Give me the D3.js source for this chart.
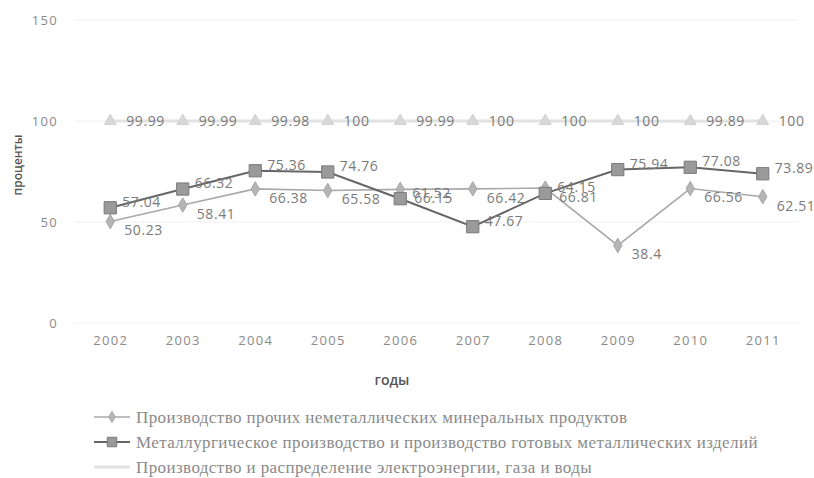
<!DOCTYPE html>
<html>
<head>
<meta charset="utf-8">
<script src="https://cdn.jsdelivr.net/npm/d3@7"></script>
<style>
  body { margin: 0; background: #fff; }
  .tick-label { font-family: "Open Sans", sans-serif; font-size: 13px; fill: #8a8a8a; letter-spacing: 1.3px; }
  .val-label { font-family: "Open Sans", sans-serif; font-size: 14px; fill: #7a7a7a; letter-spacing: 0.6px; }
  .axis-title { font-family: "Open Sans", sans-serif; font-size: 12px; fill: #555; font-weight: 600; }
  .legend-text { font-family: "Liberation Serif", serif; font-size: 17px; fill: #8a8a8a; letter-spacing: 0.4px; }
</style>
</head>
<body>
<div id="chart"></div>
<script>
// years on x axis
const years = ["2002", "2003", "2004", "2005", "2006", "2007", "2008", "2009", "2010", "2011"];
const yTicks = [0, 50, 100, 150];

// series values, percent
const nonMetal = [50.23, 58.41, 66.38, 65.58, 66.15, 66.42, 66.81, 38.4, 66.56, 62.51];
const metal = [57.04, 66.32, 75.36, 74.76, 61.52, 47.67, 64.15, 75.94, 77.08, 73.89];
const energy = [99.99, 99.99, 99.98, 100, 99.99, 100, 100, 100, 99.89, 100];

const seriesNames = [
    "Производство прочих неметаллических минеральных продуктов",
    "Металлургическое производство и производство готовых металлических изделий",
    "Производство и распределение электроэнергии, газа и воды"
];

const W = 814, H = 478;

const svg = d3.select("#chart")
    .append("svg")
    .attr("width", W)
    .attr("height", H);

const x = d3.scalePoint()
    .domain(years)
    .range([74, 799])
    .padding(0.5);

const y = d3.scaleLinear()
    .domain([0, 150])
    .range([323, 20]);

// faint gridlines
svg.append("g")
    .selectAll("line")
    .data(yTicks)
    .enter()
    .append("line")
    .attr("x1", 74).attr("x2", 799)
    .attr("y1", d => y(d)).attr("y2", d => y(d))
    .attr("stroke", "#f0f0f0")
    .attr("stroke-width", 1);

// y axis (labels only)
const yAxis = d3.axisLeft(y).tickValues(yTicks).tickSize(0).tickPadding(0);
const gy = svg.append("g")
    .attr("transform", "translate(58,0)")
    .call(yAxis);
gy.select(".domain").remove();
gy.selectAll("text").attr("class", "tick-label").attr("dy", "0.35em");

// x axis (labels only)
const xAxis = d3.axisBottom(x).tickSize(0).tickPadding(0);
const gx = svg.append("g")
    .attr("transform", "translate(0,337)")
    .call(xAxis);
gx.select(".domain").remove();
gx.selectAll("text").attr("class", "tick-label").attr("dy", "0.6em");

// axis titles
svg.append("g")
    .attr("transform", "translate(18,165) rotate(-90)")
    .append("text")
    .attr("class", "axis-title")
    .attr("text-anchor", "middle")
    .attr("dy", "0.35em")
    .text("проценты");

svg.append("text")
    .attr("class", "axis-title")
    .attr("x", 392)
    .attr("y", 380)
    .attr("dy", "0.35em")
    .attr("text-anchor", "middle")
    .style("font-size", "14px")
    .text("годы");

const line = d3.line()
    .x((d, i) => x(years[i]))
    .y(d => y(d));

const series = [
    { values: energy, line: "#e2e2e2", width: 3, fill: "#d8d8d8", stroke: "#cfcfcf", shape: d3.symbolTriangle, size: 60, dx: 16, dy: 0 },
    { values: nonMetal, line: "#a9a9a9", width: 1.6, fill: "#b5b5b5", stroke: "#a5a5a5", shape: d3.symbolDiamond, size: 60, dx: 14, dy: 9 },
    { values: metal, line: "#666666", width: 2, fill: "#9a9a9a", stroke: "#7a7a7a", shape: d3.symbolSquare, size: 150, dx: 12, dy: -6 }
];

series.forEach(s => {
    svg.append("path")
        .datum(s.values)
        .attr("fill", "none")
        .attr("stroke", s.line)
        .attr("stroke-width", s.width)
        .attr("d", line);

    svg.append("g")
        .selectAll("path")
        .data(s.values)
        .enter()
        .append("path")
        .attr("transform", (d, i) => "translate(" + x(years[i]) + "," + y(d) + ")")
        .attr("d", d3.symbol().type(s.shape).size(s.size))
        .attr("fill", s.fill)
        .attr("stroke", s.stroke)
        .attr("stroke-width", 1);

    svg.append("g")
        .selectAll("text")
        .data(s.values)
        .enter()
        .append("text")
        .attr("class", "val-label")
        .attr("x", (d, i) => x(years[i]) + s.dx)
        .attr("y", d => y(d) + s.dy)
        .attr("dy", "0.35em")
        .text(d => d);
});

// legend
const legendStyles = [series[1], series[2], series[0]];
const lg = svg.append("g");
seriesNames.forEach((name, i) => {
    const s = legendStyles[i];
    const ly = 417 + i * 25;
    lg.append("line")
        .attr("x1", 94).attr("x2", 130)
        .attr("y1", ly).attr("y2", ly)
        .attr("stroke", s.line)
        .attr("stroke-width", s.width);
    if (i < 2) {
        lg.append("path")
            .attr("transform", "translate(112," + ly + ")")
            .attr("d", d3.symbol().type(s.shape).size(s.size * 0.6))
            .attr("fill", s.fill)
            .attr("stroke", s.stroke);
    }
    lg.append("text")
        .attr("class", "legend-text")
        .attr("x", 136)
        .attr("y", ly)
        .attr("dy", "0.35em")
        .text(name);
});
</script>
</body>
</html>
